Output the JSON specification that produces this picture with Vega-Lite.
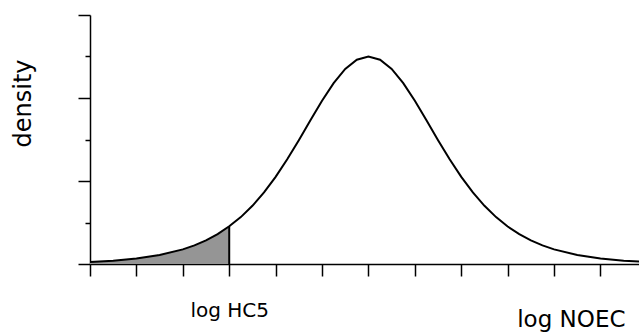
{
  "$schema": "https://vega.github.io/schema/vega-lite/v6.json",
  "width": 549,
  "height": 249,
  "autosize": {"type": "none"},
  "padding": {"left": 90, "top": 15, "right": 0, "bottom": 69},
  "background": "white",
  "config": {"view": {"stroke": null}, "font": "DejaVu Sans"},
  "datasets": {
    "curve": [
      {"x": 0, "y": 0.049}, {"x": 0.5, "y": 0.081}, {"x": 1, "y": 0.133}, {"x": 1.5, "y": 0.217},
      {"x": 2, "y": 0.353}, {"x": 2.25, "y": 0.449}, {"x": 2.5, "y": 0.569}, {"x": 2.75, "y": 0.719},
      {"x": 3, "y": 0.91}, {"x": 3.25, "y": 1.13}, {"x": 3.5, "y": 1.402}, {"x": 3.75, "y": 1.725},
      {"x": 4, "y": 2.1}, {"x": 4.25, "y": 2.523}, {"x": 4.5, "y": 2.983}, {"x": 4.75, "y": 3.462},
      {"x": 5, "y": 3.932}, {"x": 5.25, "y": 4.358}, {"x": 5.5, "y": 4.7}, {"x": 5.75, "y": 4.923},
      {"x": 6, "y": 5.0}, {"x": 6.25, "y": 4.923}, {"x": 6.5, "y": 4.7}, {"x": 6.75, "y": 4.358},
      {"x": 7, "y": 3.932}, {"x": 7.25, "y": 3.462}, {"x": 7.5, "y": 2.983}, {"x": 7.75, "y": 2.523},
      {"x": 8, "y": 2.1}, {"x": 8.25, "y": 1.725}, {"x": 8.5, "y": 1.402}, {"x": 8.75, "y": 1.13},
      {"x": 9, "y": 0.904}, {"x": 9.25, "y": 0.719}, {"x": 9.5, "y": 0.569}, {"x": 9.75, "y": 0.449},
      {"x": 10, "y": 0.353}, {"x": 10.5, "y": 0.217}, {"x": 11, "y": 0.133}, {"x": 11.5, "y": 0.081},
      {"x": 12, "y": 0.049}
    ],
    "hc5": [{"x": 3, "y": 0.91}]
  },
  "encoding": {
    "x": {"field": "x", "type": "quantitative", "scale": {"domain": [0, 11.83], "nice": false, "zero": false},
      "axis": {"values": [0, 1, 2, 3, 4, 5, 6, 7, 8, 9, 10, 11], "tickSize": 12, "tickWidth": 1.5, "tickColor": "black",
        "domainColor": "black", "domainWidth": 1.5, "grid": false,
        "labelExpr": "datum.value == 3 ? 'log HC5' : ''", "labelFont": "DejaVu Sans", "labelFontSize": 20, "labelColor": "black", "labelPadding": 24, "labelOverlap": false, "labelBound": false, "labelFlush": false, "labelDx": 4,
        "title": "log NOEC", "titleFont": "DejaVu Sans", "titleFontSize": 23, "titleFontWeight": "normal", "titleColor": "black",
        "titleX": 535, "titleY": 62, "titleAlign": "right", "titleBaseline": "alphabetic", "titleAnchor": "end"}}
  },
  "layer": [
    {
      "data": {"name": "curve"},
      "transform": [{"filter": "datum.x <= 3"}],
      "mark": {"type": "area", "color": "#959595", "clip": true},
      "encoding": {
        "y": {"field": "y", "type": "quantitative", "scale": {"domain": [0, 6], "nice": false},
          "axis": {"orient": "left", "values": [1, 3, 5], "tickSize": 5, "tickWidth": 1.5, "tickColor": "black", "domain": false, "labels": false, "grid": false, "title": null}}
      }
    },
    {
      "data": {"name": "hc5"},
      "mark": {"type": "rule", "color": "black", "strokeWidth": 2},
      "encoding": {
        "y": {"field": "y", "type": "quantitative", "axis": null},
        "y2": {"datum": 0}
      }
    },
    {
      "data": {"name": "curve"},
      "mark": {"type": "line", "color": "black", "strokeWidth": 2, "clip": true},
      "encoding": {
        "y": {"field": "y", "type": "quantitative",
          "axis": {"orient": "left", "values": [0, 2, 4, 6], "tickSize": 12, "tickWidth": 1.5, "tickColor": "black",
            "domainColor": "black", "domainWidth": 1.5, "labels": false, "grid": false,
            "title": "density", "titleFont": "DejaVu Sans", "titleFontSize": 24, "titleFontWeight": "normal", "titleColor": "black",
            "titleAngle": -90, "titleX": -60, "titleY": 88, "titleAlign": "center", "titleBaseline": "alphabetic"}}
      }
    }
  ],
  "resolve": {"axis": {"y": "independent"}}
}
